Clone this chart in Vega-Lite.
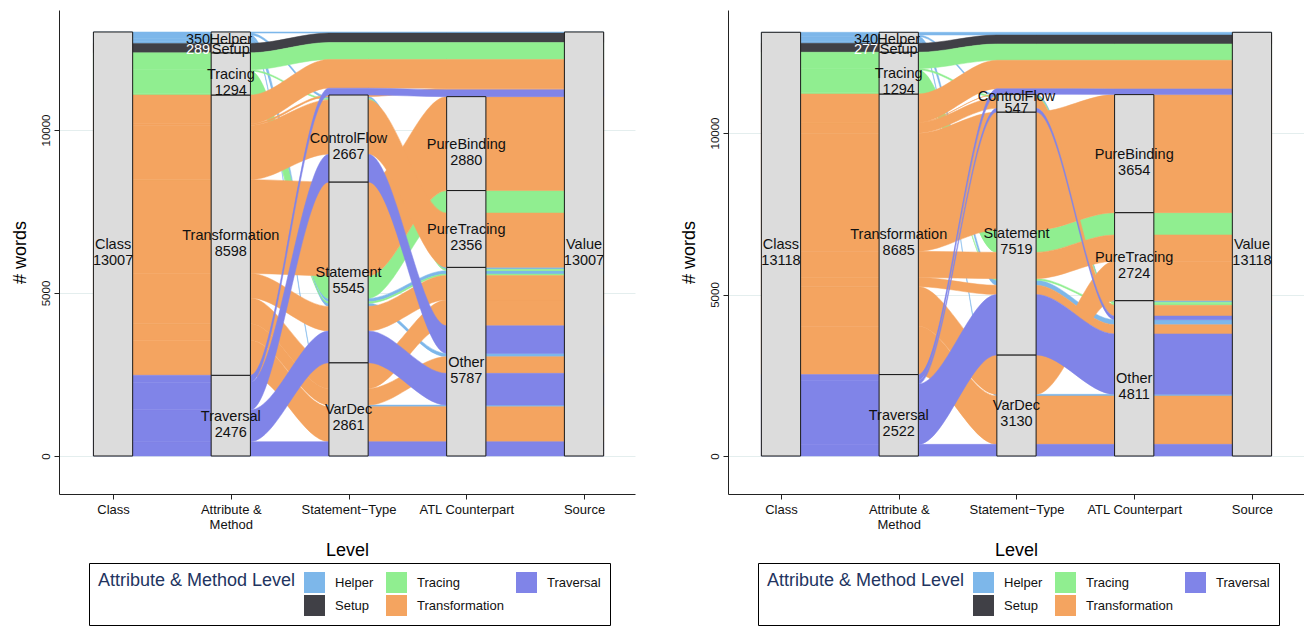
{
  "$schema": "https://vega.github.io/schema/vega-lite/v6.json",
  "padding": {"left": 11, "top": 10, "right": 0, "bottom": 0},
  "spacing": 45,
  "config": {
    "font": "Liberation Sans",
    "view": {"stroke": null},
    "axis": {"domainColor": "#222222", "tickColor": "#222222", "labelColor": "#111111", "titleColor": "#000000", "titleFontWeight": "normal", "labelFont": "Liberation Sans", "titleFont": "Liberation Sans"},
    "legend": {"labelFont": "Liberation Sans", "titleFont": "Liberation Sans", "titleFontSize": 18, "titleFontWeight": "normal", "titleColor": "#22345f", "titleLimit": 400}
  },
  "datasets": {
    "flows": [
      {"p":"A","id":"A18","attr":"Helper","n":51,"r2":18,"r3":3,"r4":3},
      {"p":"A","id":"A19","attr":"Helper","n":100,"r2":19,"r3":8,"r4":6},
      {"p":"A","id":"A20","attr":"Helper","n":105,"r2":20,"r3":10,"r4":11},
      {"p":"A","id":"A21","attr":"Helper","n":60,"r2":21,"r3":16,"r4":13},
      {"p":"A","id":"A22","attr":"Helper","n":34,"r2":22,"r3":22,"r4":22},
      {"p":"A","id":"A17","attr":"Setup","n":289,"r2":17,"r3":21,"r4":21},
      {"p":"A","id":"A13","attr":"Tracing","n":690,"r2":14,"r3":11,"r4":15},
      {"p":"A","id":"A14","attr":"Tracing","n":43,"r2":13,"r3":9,"r4":10},
      {"p":"A","id":"A15","attr":"Tracing","n":41,"r2":15,"r3":15,"r4":12},
      {"p":"A","id":"A16","attr":"Tracing","n":520,"r2":16,"r3":20,"r4":20},
      {"p":"A","id":"A5","attr":"Transformation","n":1070,"r2":5,"r3":2,"r4":2},
      {"p":"A","id":"A6","attr":"Transformation","n":510,"r2":6,"r3":4,"r4":5},
      {"p":"A","id":"A7","attr":"Transformation","n":790,"r2":7,"r3":5,"r4":8},
      {"p":"A","id":"A8","attr":"Transformation","n":752,"r2":8,"r3":7,"r4":9},
      {"p":"A","id":"A9","attr":"Transformation","n":2880,"r2":9,"r3":12,"r4":16},
      {"p":"A","id":"A10","attr":"Transformation","n":1666,"r2":10,"r3":14,"r4":14},
      {"p":"A","id":"A11","attr":"Transformation","n":50,"r2":11,"r3":17,"r4":18},
      {"p":"A","id":"A12","attr":"Transformation","n":880,"r2":12,"r3":19,"r4":19},
      {"p":"A","id":"A1","attr":"Traversal","n":440,"r2":1,"r3":1,"r4":1},
      {"p":"A","id":"A2","attr":"Traversal","n":975,"r2":2,"r3":6,"r4":4},
      {"p":"A","id":"A3","attr":"Traversal","n":850,"r2":3,"r3":13,"r4":7},
      {"p":"A","id":"A4","attr":"Traversal","n":211,"r2":4,"r3":18,"r4":17},
      {"p":"B","id":"B18","attr":"Helper","n":52,"r2":18,"r3":3,"r4":3},
      {"p":"B","id":"B19","attr":"Helper","n":155,"r2":19,"r3":7,"r4":6},
      {"p":"B","id":"B20","attr":"Helper","n":48,"r2":20,"r3":15,"r4":11},
      {"p":"B","id":"B21","attr":"Helper","n":85,"r2":21,"r3":21,"r4":21},
      {"p":"B","id":"B17","attr":"Setup","n":277,"r2":17,"r3":20,"r4":20},
      {"p":"B","id":"B13","attr":"Tracing","n":50,"r2":13,"r3":8,"r4":9},
      {"p":"B","id":"B14","attr":"Tracing","n":690,"r2":14,"r3":10,"r4":14},
      {"p":"B","id":"B15","attr":"Tracing","n":49,"r2":15,"r3":14,"r4":10},
      {"p":"B","id":"B16","attr":"Tracing","n":505,"r2":16,"r3":19,"r4":19},
      {"p":"B","id":"B5","attr":"Transformation","n":1497,"r2":5,"r3":2,"r4":2},
      {"p":"B","id":"B6","attr":"Transformation","n":1220,"r2":6,"r3":4,"r4":12},
      {"p":"B","id":"B7","attr":"Transformation","n":286,"r2":7,"r3":6,"r4":5},
      {"p":"B","id":"B8","attr":"Transformation","n":814,"r2":8,"r3":9,"r4":13},
      {"p":"B","id":"B9","attr":"Transformation","n":3654,"r2":9,"r3":11,"r4":15},
      {"p":"B","id":"B10","attr":"Transformation","n":329,"r2":10,"r3":13,"r4":8},
      {"p":"B","id":"B11","attr":"Transformation","n":7,"r2":11,"r3":16,"r4":17},
      {"p":"B","id":"B12","attr":"Transformation","n":878,"r2":12,"r3":18,"r4":18},
      {"p":"B","id":"B1","attr":"Traversal","n":361,"r2":1,"r3":1,"r4":1},
      {"p":"B","id":"B2","attr":"Traversal","n":1870,"r2":2,"r3":5,"r4":4},
      {"p":"B","id":"B3","attr":"Traversal","n":114,"r2":3,"r3":12,"r4":7},
      {"p":"B","id":"B4","attr":"Traversal","n":177,"r2":4,"r3":17,"r4":16}
    ],
    "strata": [
      {"p":"A","lv":1,"s":"Class","n":13007,"o":1},
      {"p":"A","lv":2,"s":"Traversal","n":2476,"o":1},
      {"p":"A","lv":2,"s":"Transformation","n":8598,"o":2},
      {"p":"A","lv":2,"s":"Tracing","n":1294,"o":3},
      {"p":"A","lv":2,"s":"Setup","n":289,"o":4},
      {"p":"A","lv":2,"s":"Helper","n":350,"o":5},
      {"p":"A","lv":3,"s":"VarDec","n":2861,"o":1},
      {"p":"A","lv":3,"s":"Statement","n":5545,"o":2},
      {"p":"A","lv":3,"s":"ControlFlow","n":2667,"o":3},
      {"p":"A","lv":4,"s":"Other","n":5787,"o":1},
      {"p":"A","lv":4,"s":"PureTracing","n":2356,"o":2},
      {"p":"A","lv":4,"s":"PureBinding","n":2880,"o":3},
      {"p":"A","lv":5,"s":"Value","n":13007,"o":1},
      {"p":"B","lv":1,"s":"Class","n":13118,"o":1},
      {"p":"B","lv":2,"s":"Traversal","n":2522,"o":1},
      {"p":"B","lv":2,"s":"Transformation","n":8685,"o":2},
      {"p":"B","lv":2,"s":"Tracing","n":1294,"o":3},
      {"p":"B","lv":2,"s":"Setup","n":277,"o":4},
      {"p":"B","lv":2,"s":"Helper","n":340,"o":5},
      {"p":"B","lv":3,"s":"VarDec","n":3130,"o":1},
      {"p":"B","lv":3,"s":"Statement","n":7519,"o":2},
      {"p":"B","lv":3,"s":"ControlFlow","n":547,"o":3},
      {"p":"B","lv":4,"s":"Other","n":4811,"o":1},
      {"p":"B","lv":4,"s":"PureTracing","n":2724,"o":2},
      {"p":"B","lv":4,"s":"PureBinding","n":3654,"o":3},
      {"p":"B","lv":5,"s":"Value","n":13118,"o":1}
    ]
  },
  "resolve": {"scale": {"color": "independent", "stroke": "independent", "x": "independent", "y": "independent"}, "legend": {"color": "independent"}},
  "hconcat": [
    {
      "width": 576,
      "height": 484,
      "layer": [
        {
          "data": {"name": "flows"},
          "transform": [
            {"filter": "datum.p == 'A'"},
            {"fold": ["r2", "r3", "r4"], "as": ["lvl", "rank"]},
            {"stack": "n", "groupby": ["lvl"], "sort": [{"field": "rank", "order": "ascending"}], "as": ["y0", "y1"]},
            {"calculate": "datum.lvl == 'r2' ? 0.8333 : datum.lvl == 'r3' ? 2.8333 : 3.8333", "as": "xl"},
            {"calculate": "datum.lvl == 'r2' ? 2.1667 : datum.lvl == 'r3' ? 3.1667 : 5.1667", "as": "xr"},
            {"fold": ["xl", "xr"], "as": ["edge", "x"]}
          ],
          "mark": {"type": "area", "interpolate": "monotone", "strokeWidth": 0.5},
          "encoding": {
            "x": {"field": "x", "type": "quantitative", "title": "Level", "scale": {"domain": [0.541, 5.433], "nice": false, "zero": false},
              "axis": {"values": [1, 2, 3, 4, 5], "grid": false, "labelExpr": "datum.value == 1 ? 'Class' : datum.value == 2 ? ['Attribute &', 'Method'] : datum.value == 3 ? 'Statement−Type' : datum.value == 4 ? 'ATL Counterpart' : 'Source'", "labelFontSize": 13, "labelLineHeight": 15, "tickSize": 5, "labelPadding": 4, "titleFontSize": 18, "titlePadding": 10}},
            "y": {"field": "y0", "type": "quantitative", "title": "# words", "scale": {"domain": [-1166, 13681], "nice": false, "zero": false},
              "axis": {"values": [0, 5000, 10000], "format": "d", "labelAngle": 270, "labelAlign": "center", "labelBaseline": "bottom", "labelFontSize": 11.5, "tickSize": 5, "labelPadding": 3, "grid": true, "gridColor": "#e4eeee", "titleFontSize": 18, "titlePadding": 11}},
            "y2": {"field": "y1"},
            "color": {"field": "attr", "type": "nominal",
              "scale": {"domain": ["Helper", "Setup", "Tracing", "Transformation", "Traversal"], "range": ["#7db7ea", "#404046", "#90ee90", "#f4a460", "#8084e8"]},
              "legend": {"title": "Attribute & Method Level", "orient": "none", "legendX": 30, "legendY": 553, "columns": 3, "titleOrient": "left", "titleAnchor": "start", "titleLimit": 400, "titleFontSize": 18, "titleColor": "#22345f", "titleFontWeight": "normal", "titlePadding": 8, "labelFontSize": 13, "labelColor": "#111111", "labelLimit": 200, "symbolType": "square", "symbolSize": 441, "symbolStrokeWidth": 0, "rowPadding": 2, "columnPadding": 12, "labelOffset": 10, "strokeColor": "#000000", "fillColor": "#ffffff", "padding": 9}},
            "stroke": {"field": "attr", "type": "nominal", "legend": null,
              "scale": {"domain": ["Helper", "Setup", "Tracing", "Transformation", "Traversal"], "range": ["#7db7ea", "#404046", "#90ee90", "#f4a460", "#8084e8"]}},
            "detail": {"field": "id"}
          }
        },
        {
          "data": {"name": "strata"},
          "transform": [
            {"filter": "datum.p == 'A'"},
            {"stack": "n", "groupby": ["lv"], "sort": [{"field": "o", "order": "ascending"}], "as": ["s0", "s1"]},
            {"calculate": "datum.lv - 1/6", "as": "xa"},
            {"calculate": "datum.lv + 1/6", "as": "xb"}
          ],
          "mark": {"type": "rect", "fill": "#dcdcdc", "stroke": "#1a1a1a", "strokeWidth": 1},
          "encoding": {
            "x": {"field": "xa", "type": "quantitative", "title": "Level", "scale": {"domain": [0.541, 5.433], "nice": false, "zero": false}},
            "x2": {"field": "xb"},
            "y": {"field": "s0", "type": "quantitative", "title": "# words", "scale": {"domain": [-1166, 13681], "nice": false, "zero": false}},
            "y2": {"field": "s1"}
          }
        },
        {
          "data": {"name": "strata"},
          "transform": [
            {"filter": "datum.p == 'A'"},
            {"stack": "n", "groupby": ["lv"], "sort": [{"field": "o", "order": "ascending"}], "as": ["s0", "s1"]},
            {"calculate": "(datum.s0 + datum.s1) / 2", "as": "mid"},
            {"filter": "datum.n >= 1000"},
            {"calculate": "datum.s + '\\n' + datum.n", "as": "lab"}
          ],
          "mark": {"type": "text", "fontSize": 14.5, "lineBreak": "\n", "lineHeight": 16, "baseline": "middle", "dy": 1, "color": "#111111"},
          "encoding": {
            "x": {"field": "lv", "type": "quantitative", "title": "Level", "scale": {"domain": [0.541, 5.433], "nice": false, "zero": false}},
            "y": {"field": "mid", "type": "quantitative", "title": "# words", "scale": {"domain": [-1166, 13681], "nice": false, "zero": false}},
            "text": {"field": "lab"}
          }
        },
        {
          "data": {"name": "strata"},
          "transform": [
            {"filter": "datum.p == 'A'"},
            {"stack": "n", "groupby": ["lv"], "sort": [{"field": "o", "order": "ascending"}], "as": ["s0", "s1"]},
            {"calculate": "(datum.s0 + datum.s1) / 2", "as": "mid"},
            {"filter": "datum.n < 400"}
          ],
          "mark": {"type": "text", "fontSize": 14.5, "baseline": "middle", "dy": 2, "color": "#111111"},
          "encoding": {
            "x": {"field": "lv", "type": "quantitative", "title": "Level", "scale": {"domain": [0.541, 5.433], "nice": false, "zero": false}},
            "y": {"field": "mid", "type": "quantitative", "title": "# words", "scale": {"domain": [-1166, 13681], "nice": false, "zero": false}},
            "text": {"field": "s"}
          }
        },
        {
          "data": {"name": "strata"},
          "transform": [
            {"filter": "datum.p == 'A'"},
            {"stack": "n", "groupby": ["lv"], "sort": [{"field": "o", "order": "ascending"}], "as": ["s0", "s1"]},
            {"calculate": "(datum.s0 + datum.s1) / 2", "as": "mid"},
            {"calculate": "datum.lv - 1/6", "as": "xa"},
            {"filter": "datum.n < 400"}
          ],
          "mark": {"type": "text", "fontSize": 14.5, "baseline": "middle", "align": "right", "dx": -1, "dy": 2},
          "encoding": {
            "x": {"field": "xa", "type": "quantitative", "title": "Level", "scale": {"domain": [0.541, 5.433], "nice": false, "zero": false}},
            "y": {"field": "mid", "type": "quantitative", "title": "# words", "scale": {"domain": [-1166, 13681], "nice": false, "zero": false}},
            "text": {"field": "n", "type": "quantitative", "format": "d"},
            "color": {"condition": {"test": "datum.s == 'Setup'", "value": "#ffffff"}, "value": "#111111"}
          }
        }
      ]
    },
    {
      "width": 576,
      "height": 484,
      "layer": [
        {
          "data": {"name": "flows"},
          "transform": [
            {"filter": "datum.p == 'B'"},
            {"fold": ["r2", "r3", "r4"], "as": ["lvl", "rank"]},
            {"stack": "n", "groupby": ["lvl"], "sort": [{"field": "rank", "order": "ascending"}], "as": ["y0", "y1"]},
            {"calculate": "datum.lvl == 'r2' ? 0.8333 : datum.lvl == 'r3' ? 2.8333 : 3.8333", "as": "xl"},
            {"calculate": "datum.lvl == 'r2' ? 2.1667 : datum.lvl == 'r3' ? 3.1667 : 5.1667", "as": "xr"},
            {"fold": ["xl", "xr"], "as": ["edge", "x"]}
          ],
          "mark": {"type": "area", "interpolate": "monotone", "strokeWidth": 0.5},
          "encoding": {
            "x": {"field": "x", "type": "quantitative", "title": "Level", "scale": {"domain": [0.55, 5.442], "nice": false, "zero": false},
              "axis": {"values": [1, 2, 3, 4, 5], "grid": false, "labelExpr": "datum.value == 1 ? 'Class' : datum.value == 2 ? ['Attribute &', 'Method'] : datum.value == 3 ? 'Statement−Type' : datum.value == 4 ? 'ATL Counterpart' : 'Source'", "labelFontSize": 13, "labelLineHeight": 15, "tickSize": 5, "labelPadding": 4, "titleFontSize": 18, "titlePadding": 10}},
            "y": {"field": "y0", "type": "quantitative", "title": "# words", "scale": {"domain": [-1176, 13808], "nice": false, "zero": false},
              "axis": {"values": [0, 5000, 10000], "format": "d", "labelAngle": 270, "labelAlign": "center", "labelBaseline": "bottom", "labelFontSize": 11.5, "tickSize": 5, "labelPadding": 3, "grid": true, "gridColor": "#e4eeee", "titleFontSize": 18, "titlePadding": 11}},
            "y2": {"field": "y1"},
            "color": {"field": "attr", "type": "nominal",
              "scale": {"domain": ["Helper", "Setup", "Tracing", "Transformation", "Traversal"], "range": ["#7db7ea", "#404046", "#90ee90", "#f4a460", "#8084e8"]},
              "legend": {"title": "Attribute & Method Level", "orient": "none", "legendX": 30, "legendY": 553, "columns": 3, "titleOrient": "left", "titleAnchor": "start", "titleLimit": 400, "titleFontSize": 18, "titleColor": "#22345f", "titleFontWeight": "normal", "titlePadding": 8, "labelFontSize": 13, "labelColor": "#111111", "labelLimit": 200, "symbolType": "square", "symbolSize": 441, "symbolStrokeWidth": 0, "rowPadding": 2, "columnPadding": 12, "labelOffset": 10, "strokeColor": "#000000", "fillColor": "#ffffff", "padding": 9}},
            "stroke": {"field": "attr", "type": "nominal", "legend": null,
              "scale": {"domain": ["Helper", "Setup", "Tracing", "Transformation", "Traversal"], "range": ["#7db7ea", "#404046", "#90ee90", "#f4a460", "#8084e8"]}},
            "detail": {"field": "id"}
          }
        },
        {
          "data": {"name": "strata"},
          "transform": [
            {"filter": "datum.p == 'B'"},
            {"stack": "n", "groupby": ["lv"], "sort": [{"field": "o", "order": "ascending"}], "as": ["s0", "s1"]},
            {"calculate": "datum.lv - 1/6", "as": "xa"},
            {"calculate": "datum.lv + 1/6", "as": "xb"}
          ],
          "mark": {"type": "rect", "fill": "#dcdcdc", "stroke": "#1a1a1a", "strokeWidth": 1},
          "encoding": {
            "x": {"field": "xa", "type": "quantitative", "title": "Level", "scale": {"domain": [0.55, 5.442], "nice": false, "zero": false}},
            "x2": {"field": "xb"},
            "y": {"field": "s0", "type": "quantitative", "title": "# words", "scale": {"domain": [-1176, 13808], "nice": false, "zero": false}},
            "y2": {"field": "s1"}
          }
        },
        {
          "data": {"name": "strata"},
          "transform": [
            {"filter": "datum.p == 'B'"},
            {"stack": "n", "groupby": ["lv"], "sort": [{"field": "o", "order": "ascending"}], "as": ["s0", "s1"]},
            {"calculate": "(datum.s0 + datum.s1) / 2", "as": "mid"},
            {"filter": "datum.n >= 1000"},
            {"calculate": "datum.s + '\\n' + datum.n", "as": "lab"}
          ],
          "mark": {"type": "text", "fontSize": 14.5, "lineBreak": "\n", "lineHeight": 16, "baseline": "middle", "dy": 1, "color": "#111111"},
          "encoding": {
            "x": {"field": "lv", "type": "quantitative", "title": "Level", "scale": {"domain": [0.55, 5.442], "nice": false, "zero": false}},
            "y": {"field": "mid", "type": "quantitative", "title": "# words", "scale": {"domain": [-1176, 13808], "nice": false, "zero": false}},
            "text": {"field": "lab"}
          }
        },
        {
          "data": {"name": "strata"},
          "transform": [
            {"filter": "datum.p == 'B'"},
            {"stack": "n", "groupby": ["lv"], "sort": [{"field": "o", "order": "ascending"}], "as": ["s0", "s1"]},
            {"calculate": "(datum.s0 + datum.s1) / 2", "as": "mid"},
            {"filter": "datum.n >= 400 && datum.n < 1000"},
            {"calculate": "datum.s + '\\n' + datum.n", "as": "lab"}
          ],
          "mark": {"type": "text", "fontSize": 14.5, "lineBreak": "\n", "lineHeight": 12, "baseline": "middle", "dy": -6, "color": "#111111"},
          "encoding": {
            "x": {"field": "lv", "type": "quantitative", "title": "Level", "scale": {"domain": [0.55, 5.442], "nice": false, "zero": false}},
            "y": {"field": "mid", "type": "quantitative", "title": "# words", "scale": {"domain": [-1176, 13808], "nice": false, "zero": false}},
            "text": {"field": "lab"}
          }
        },
        {
          "data": {"name": "strata"},
          "transform": [
            {"filter": "datum.p == 'B'"},
            {"stack": "n", "groupby": ["lv"], "sort": [{"field": "o", "order": "ascending"}], "as": ["s0", "s1"]},
            {"calculate": "(datum.s0 + datum.s1) / 2", "as": "mid"},
            {"filter": "datum.n < 400"}
          ],
          "mark": {"type": "text", "fontSize": 14.5, "baseline": "middle", "dy": 2, "color": "#111111"},
          "encoding": {
            "x": {"field": "lv", "type": "quantitative", "title": "Level", "scale": {"domain": [0.55, 5.442], "nice": false, "zero": false}},
            "y": {"field": "mid", "type": "quantitative", "title": "# words", "scale": {"domain": [-1176, 13808], "nice": false, "zero": false}},
            "text": {"field": "s"}
          }
        },
        {
          "data": {"name": "strata"},
          "transform": [
            {"filter": "datum.p == 'B'"},
            {"stack": "n", "groupby": ["lv"], "sort": [{"field": "o", "order": "ascending"}], "as": ["s0", "s1"]},
            {"calculate": "(datum.s0 + datum.s1) / 2", "as": "mid"},
            {"calculate": "datum.lv - 1/6", "as": "xa"},
            {"filter": "datum.n < 400"}
          ],
          "mark": {"type": "text", "fontSize": 14.5, "baseline": "middle", "align": "right", "dx": -1, "dy": 2},
          "encoding": {
            "x": {"field": "xa", "type": "quantitative", "title": "Level", "scale": {"domain": [0.55, 5.442], "nice": false, "zero": false}},
            "y": {"field": "mid", "type": "quantitative", "title": "# words", "scale": {"domain": [-1176, 13808], "nice": false, "zero": false}},
            "text": {"field": "n", "type": "quantitative", "format": "d"},
            "color": {"condition": {"test": "datum.s == 'Setup'", "value": "#ffffff"}, "value": "#111111"}
          }
        }
      ]
    }
  ]
}
